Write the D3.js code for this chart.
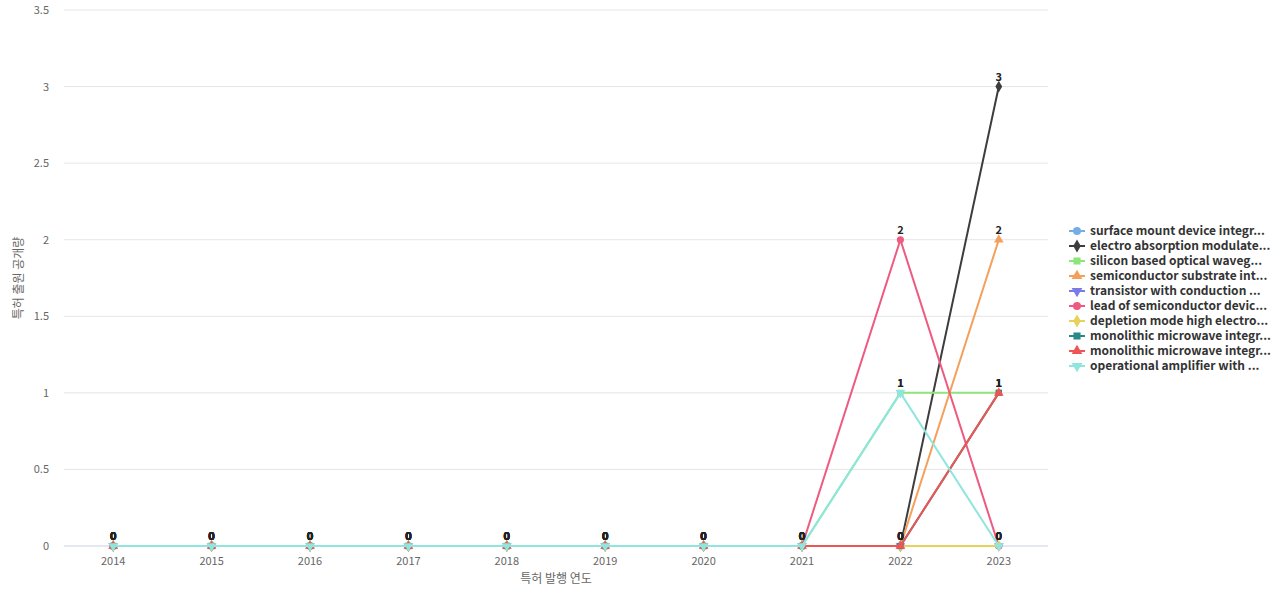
<!DOCTYPE html>
<html><head><meta charset="utf-8">
<script src="https://cdn.jsdelivr.net/npm/d3@7"></script>
<style>body{margin:0;background:#fff;font-family:"Noto Sans CJK KR","Noto Sans",sans-serif}</style>
</head><body><svg id="c" width="1280" height="600"></svg>
<script>
const years = ['2014','2015','2016','2017','2018','2019','2020','2021','2022','2023'];
const names = ['surface mount device integr...','electro absorption modulate...','silicon based optical waveg...','semiconductor substrate int...','transistor with conduction ...','lead of semiconductor devic...','depletion mode high electro...','monolithic microwave integr...','monolithic microwave integr...','operational amplifier with ...'];
const colors = ['#74aee6','#3d3d3d','#8ee57c','#f5a05a','#7b7be8','#ef5a80','#e6d25a','#2a8888','#ee5555','#8ee6de'];
const symbols = ['circle','diamond','square','triangle','triangleDown','circle','diamond','square','triangle','triangleDown'];
const values = [
  [0,0,0,0,0,0,0,0,0,0],
  [0,0,0,0,0,0,0,0,0,3],
  [0,0,0,0,0,0,0,0,1,1],
  [0,0,0,0,0,0,0,0,0,2],
  [0,0,0,0,0,0,0,0,0,0],
  [0,0,0,0,0,0,0,0,2,0],
  [0,0,0,0,0,0,0,0,0,0],
  [0,0,0,0,0,0,0,0,0,1],
  [0,0,0,0,0,0,0,0,0,1],
  [0,0,0,0,0,0,0,0,1,0]
];
const yTicks = [0,0.5,1,1.5,2,2.5,3,3.5];

const svg = d3.select('#c');
const x = d3.scalePoint().domain(years).range([64,1048]).padding(0.5);
const y = d3.scaleLinear().domain([0,3.5]).range([546,10]);
const symMap = {circle:d3.symbolCircle,diamond:d3.symbolDiamond,square:d3.symbolSquare,triangle:d3.symbolTriangle,triangleDown:d3.symbolTriangle};

// grid
svg.append('g').selectAll('line').data(yTicks).join('line')
  .attr('x1',64).attr('x2',1048).attr('y1',d=>y(d)).attr('y2',d=>y(d))
  .attr('stroke',d=>d===0?'#c8d0e0':'#e6e6e6');
svg.append('g').selectAll('text').data(yTicks).join('text')
  .attr('x',49).attr('y',d=>y(d)+4).attr('text-anchor','end')
  .attr('font-size',11).attr('fill','#666').text(d=>d);
svg.append('g').selectAll('text').data(years).join('text')
  .attr('x',d=>x(d)).attr('y',565).attr('text-anchor','middle')
  .attr('font-size',11).attr('fill','#666').text(d=>d);
svg.append('text').attr('x',556).attr('y',583).attr('text-anchor','middle')
  .attr('font-size',12).attr('fill','#666').text('특허 발행 연도');
svg.append('text').attr('transform','translate(23,278) rotate(-90)').attr('text-anchor','middle')
  .attr('font-size',12).attr('fill','#666').text('특허 출원 공개량');

const line = d3.line().x((d,i)=>x(years[i])).y(d=>y(d));
values.forEach((vals,s)=>{
  const g = svg.append('g');
  g.append('path').attr('d',line(vals)).attr('fill','none').attr('stroke',colors[s]).attr('stroke-width',2);
  const sym = d3.symbol().type(symMap[symbols[s]]).size(40);
  g.selectAll('path.m').data(vals).join('path').attr('class','m')
    .attr('d',sym).attr('fill',colors[s])
    .attr('transform',(d,i)=>`translate(${x(years[i])},${y(d)})${symbols[s]==='triangleDown'?' rotate(180)':''}`);
});
// value labels
values.forEach((vals,s)=>{
  svg.append('g').selectAll('text').data(vals).join('text')
    .attr('x',(d,i)=>x(years[i])).attr('y',d=>y(d)-6).attr('text-anchor','middle')
    .attr('font-size',11).attr('font-weight','bold').attr('fill','#222').text(d=>d);
});

// legend
const lg = svg.append('g').attr('transform','translate(1069,231)');
names.forEach((n,s)=>{
  const r = lg.append('g').attr('transform',`translate(0,${s*15})`);
  r.append('line').attr('x1',0).attr('x2',16).attr('stroke',colors[s]).attr('stroke-width',2);
  r.append('path').attr('d',d3.symbol().type(symMap[symbols[s]]).size(50)())
    .attr('fill',colors[s]).attr('transform',`translate(8,0)${symbols[s]==='triangleDown'?' rotate(180)':''}`);
  r.append('text').attr('x',21).attr('y',4).attr('font-size',12).attr('font-weight','bold')
    .attr('fill','#333').text(n);
});
</script></body></html>
